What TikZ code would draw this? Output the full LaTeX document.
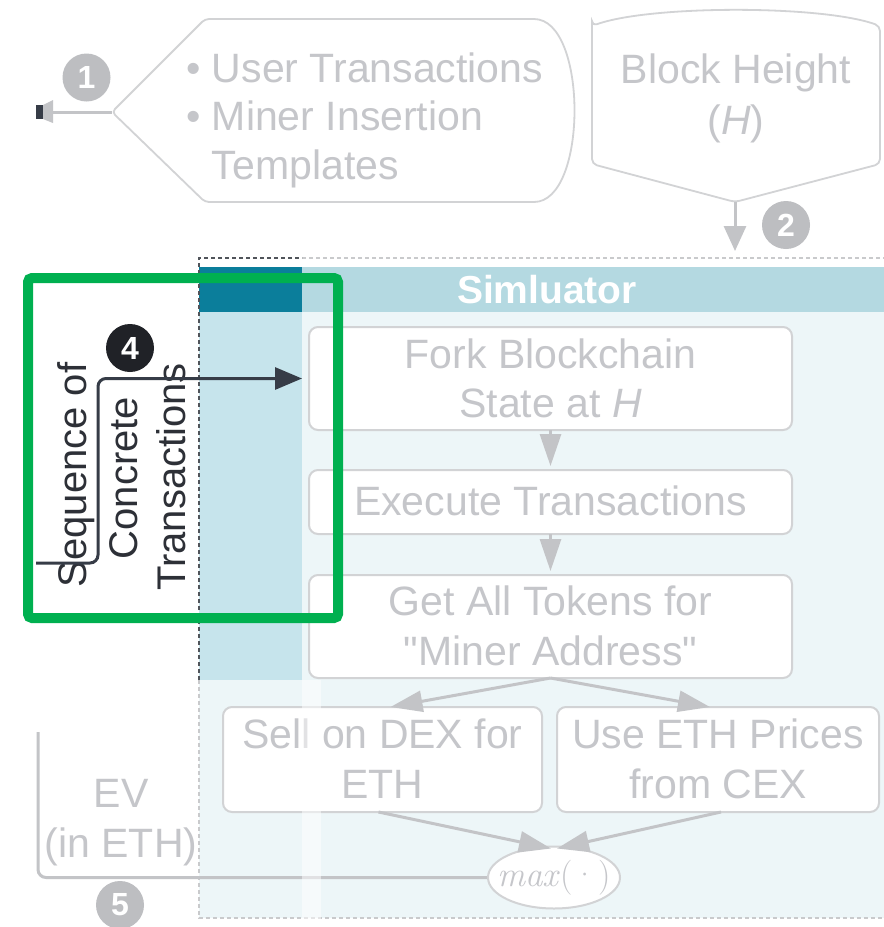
\documentclass[tikz,border=0pt]{standalone}
\usepackage{fontspec}
\setmainfont{Liberation Sans}[Ligatures=TeXOff]
\newfontfamily\lmfont{Latin Modern Roman}
\usetikzlibrary{arrows.meta,shapes.geometric,calc}
\definecolor{fadetxt}{HTML}{C5C6CA}
\definecolor{fadeline}{HTML}{D2D3D5}
\definecolor{fadearrow}{HTML}{C3C4C7}
\definecolor{fadebadge}{HTML}{BDBEC1}
\definecolor{hdrdark}{HTML}{0B7E9B}
\definecolor{hdrfade}{HTML}{B4D9E1}
\definecolor{bgdark}{HTML}{C6E4EC}
\definecolor{bgfade}{HTML}{EDF6F8}
\definecolor{darktxt}{HTML}{2D3037}
\definecolor{darkarrow}{HTML}{363C47}
\definecolor{darkbadge}{HTML}{202227}
\definecolor{hlgreen}{HTML}{00B050}
\definecolor{dashfade}{HTML}{C9CACC}
\definecolor{dashdark}{HTML}{50545A}
\begin{document}
\begin{tikzpicture}[x=1pt,y=-1pt,
  ftxt/.style={anchor=base,inner sep=0pt,text=fadetxt,font=\fontsize{41}{49}\selectfont},
  dtxt/.style={anchor=base,inner sep=0pt,text=darktxt,font=\fontsize{40}{48}\selectfont,rotate=90},
  stepbox/.style={draw=fadeline,fill=white,line width=2pt,rounded corners=9pt,inner sep=0pt},
  badge/.style={circle,fill=#1,text=white,inner sep=0pt,minimum size=48pt,font=\fontsize{32}{32}\selectfont\bfseries},
  farrow/.style={draw=fadearrow,line width=3pt,-{Triangle[length=32pt,width=21pt,fill=fadearrow]}},
  dashborder/.style={line width=1.5pt,dash pattern=on 4pt off 3pt},
  outline/.style={draw=fadeline,line width=1.8pt}
]
\useasboundingbox (0,0) rectangle (884,927);
\fill[white] (0,0) rectangle (884,927);

% ---- Simulator container ----
\fill[bgfade] (199,312) rectangle (890,918);
\fill[bgdark] (199,312) rectangle (302,680);
\fill[hdrfade] (302,267) rectangle (890,312);
\fill[hdrdark] (199,267) rectangle (302,312);
\draw[dashborder,dashfade] (199,680) -- (199,918) -- (890,918);
\draw[dashborder,dashfade] (302,258) -- (890,258);
\draw[dashborder,dashdark] (199,680) -- (199,258) -- (302,258);
\node[anchor=base,inner sep=0pt,text=white,font=\fontsize{39}{45}\selectfont\bfseries] (simtitle) at (547,303) {Simluator};

% ---- top-left display shape ----
\coordinate (dv) at (112,112);
\draw[outline,rounded corners=4pt] (dv) -- (205,19) -- (530,19) .. controls (588,19) and (588,202) .. (530,202) -- (205,202) -- cycle;
\node[ftxt,anchor=base west] (u1) at (186,82) {• User Transactions};
\node[ftxt,anchor=base west] (u2) at (186,130) {• Miner Insertion};
\node[ftxt,anchor=base west] (u3) at (186,179) {\hphantom{• }Templates};
\coordinate (a1) at (52,112);
\draw[fadearrow,line width=3pt] (dv) -- (a1);
\fill[fadearrow] (53,100) -- (43,105) -- (43,119) -- (53,123) -- cycle;
\fill[darkarrow] (36,105) rectangle (43,119);
\node[badge=fadebadge] (b1) at (86.5,77.5) {1};

% ---- Block height shape ----
\coordinate (bhtip) at (735,202);
\draw[outline,rounded corners=5pt] (592,26) -- (592,164) -- (bhtip) -- (880,164) -- (880,26) .. controls (822,5) and (650,5) .. (592,26) -- cycle;
\node[ftxt] (bh1) at (736,83) {Block Height};
\node[ftxt] (bh2) at (736,134) {(\textit{H})};
\coordinate (simtop) at (735,251);
\draw[draw=fadearrow,line width=3pt,-{Triangle[length=25pt,width=22pt,fill=fadearrow]}] (bhtip) -- (simtop);
\node[badge=fadebadge] (b2) at (786,225) {2};

% ---- simulator steps ----
\node[stepbox,minimum width=483pt,minimum height=103pt] (fork) at (550.5,378.5) {};
\node[ftxt] (fork1) at (550.5,368) {Fork Blockchain};
\node[ftxt] (fork2) at (550.5,417) {State at \textit{H}};
\node[stepbox,minimum width=483pt,minimum height=64pt] (exec) at (550.5,502) {};
\node[ftxt] (exec1) at (550.5,515) {Execute Transactions};
\node[stepbox,minimum width=483pt,minimum height=103pt] (tok) at (550.5,626.5) {};
\node[ftxt] (tok1) at (550.5,615) {Get All Tokens for};
\node[ftxt] (tok2) at (550.5,665) {"Miner Address"};
\node[stepbox,minimum width=319pt,minimum height=105pt] (sell) at (382.5,759.5) {};
\node[ftxt] (sell1) at (382.5,748) {Sell on DEX for};
\node[ftxt] (sell2) at (382.5,798) {ETH};
\node[stepbox,minimum width=322pt,minimum height=105pt] (use) at (718,759.5) {};
\node[ftxt] (use1) at (718,748) {Use ETH Prices};
\node[ftxt] (use2) at (718,798) {from CEX};
\node[ellipse,draw=fadeline,fill=white,line width=2pt,minimum width=132pt,minimum height=62pt,inner sep=0pt] (mx) at (554,877.5) {};
\node[inner sep=0pt,text=fadetxt,font=\fontsize{35}{40}\selectfont\lmfont] (mxt) at (mx.center) {\textit{max}(·)};

\draw[farrow] ([yshift=1pt]fork.south) -- ([yshift=3pt]exec.north);
\draw[farrow] ([yshift=1pt]exec.south) -- ([yshift=3pt]tok.north);
\draw[farrow] ([yshift=1pt]tok.south) -- ([xshift=8pt,yshift=-1pt]sell.north);
\draw[farrow] ([yshift=1pt]tok.south) -- ([xshift=-8pt,yshift=-1pt]use.north);
\draw[farrow] ([xshift=-4pt,yshift=1pt]sell.south) -- ([xshift=-3pt,yshift=-3pt]mx.north);
\draw[farrow] ([xshift=3pt,yshift=1pt]use.south) -- ([xshift=3pt,yshift=-3pt]mx.north);

% ---- EV output ----
\coordinate (evtop) at (38,732);
\draw[draw=fadearrow,line width=3pt,rounded corners=8pt] (mx.west) -| (evtop);
\node[ftxt] (ev1) at (121,807) {EV};
\node[ftxt] (ev2) at (121,857) {(in ETH)};
\node[badge=fadebadge] (b5) at (120,905) {5};

% ---- highlighted input ----
\node[dtxt] (seq1) at (86,475) {Sequence of};
\node[dtxt] (seq2) at (137,478) {Concrete};
\node[dtxt] (seq3) at (185,477) {Transactions};
\coordinate (s4) at (36,563);
\draw[draw=darkarrow,line width=3pt,rounded corners=8pt,shorten >=6pt,-{Triangle[length=27pt,width=22pt,fill=darkarrow]}] (s4) -- (98,563) |- (fork.west);
\node[badge=darkbadge] (b4) at (130,348) {4};

% overlay strip
\fill[white,opacity=0.5] (302,680) rectangle (321,920);

% highlight frame
\node[draw=hlgreen,line width=10pt,rounded corners=4pt,minimum width=310pt,minimum height=340pt,inner sep=0pt] (hl) at (183,448) {};
\end{tikzpicture}
\end{document}
